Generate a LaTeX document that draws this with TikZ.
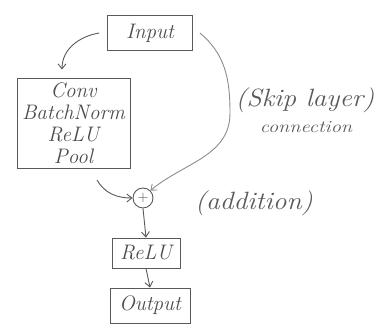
\documentclass[tikz,border=0pt]{standalone}
\usepackage{fontspec}
\usetikzlibrary{arrows.meta}
\tikzset{
  pencil/.style={draw=black!65, line width=0.9pt},
  box/.style={pencil, rectangle, inner sep=0pt, text=black!70, font=\fontsize{21}{22}\selectfont\itshape},
  flow/.style={pencil, -{Straight Barb[length=5pt,width=8pt]}},
  note/.style={text=black!65, font=\itshape}
}
\begin{document}
\begin{tikzpicture}[x=1pt,y=1pt]
  \useasboundingbox (0,0) rectangle (381,328);

  \node[box, minimum width=85, minimum height=35] (input) at (150,295) {Input};
  \node[box, minimum width=113, minimum height=90, align=center] (block) at (73.5,205)
    {Conv\\BatchNorm\\ReLU\\Pool};
  \node[pencil, circle, minimum size=20, inner sep=0pt, text=black!70, font=\Large] (add) at (143,130) {$+$};
  \node[box, minimum width=68, minimum height=30] (relu) at (146,75) {ReLU};
  \node[box, minimum width=80, minimum height=35] (output) at (150,22.5) {Output};

  \coordinate (fromblock) at (97,148);

  \draw[flow] ([xshift=-8]input.west) to[out=190,in=90] ([xshift=-11.5,yshift=8]block.north);
  \draw[flow] (fromblock) to[out=-60,in=180] (add.west);
  \draw[flow, draw=black!45] ([xshift=7]input.east) to[out=-40,in=90] (230,215)
    to[out=-90,in=40] (add.north east);
  \draw[flow] (add.south) -- (relu.north);
  \draw[flow] (relu.south) -- (output.north);

  \node[note, xscale=1.1, font=\fontsize{25}{26}\selectfont\itshape] (skip) at (305,228) {(Skip layer)};
  \node[note, xscale=1.2, font=\fontsize{17}{18}\selectfont\itshape] (conn) at (306,201) {connection};
  \node[note, xscale=1.1, font=\fontsize{25}{26}\selectfont\itshape] (addnote) at (254,125) {(addition)};
\end{tikzpicture}
\end{document}
